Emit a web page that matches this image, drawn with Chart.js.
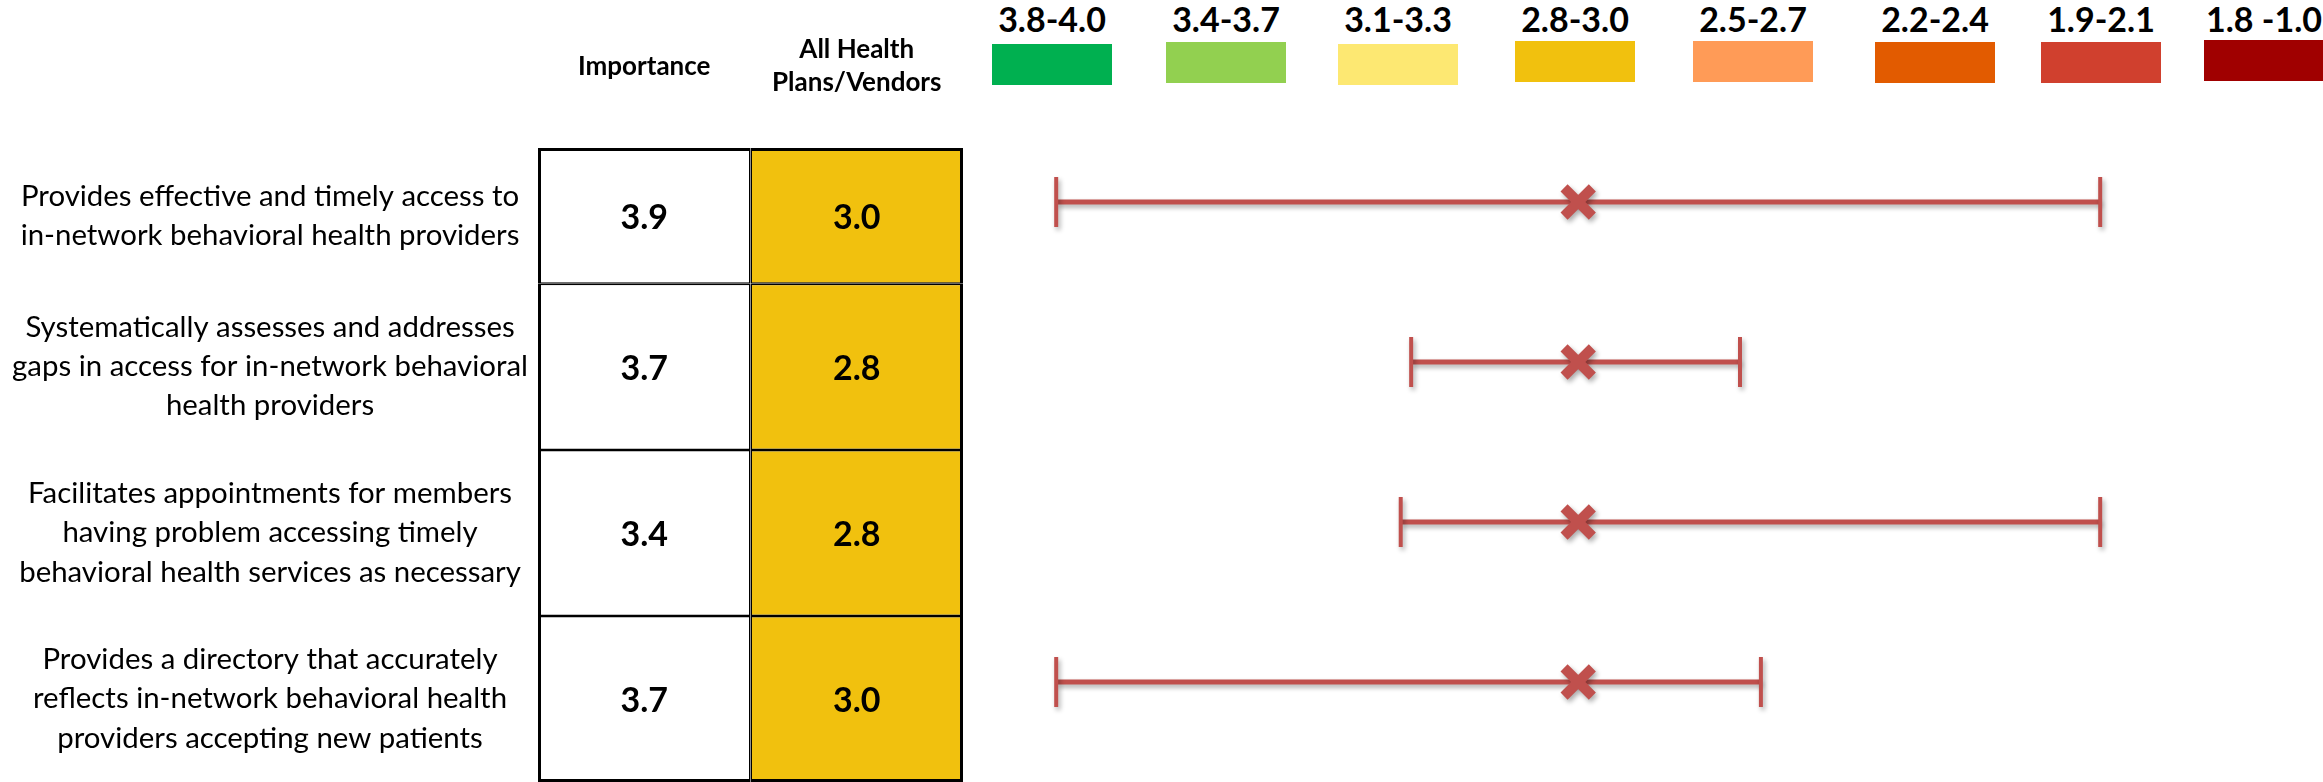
<!DOCTYPE html>
<html>
<head>
<meta charset="utf-8">
<script src="https://cdn.jsdelivr.net/npm/chart.js@4.4.1/dist/chart.umd.min.js"></script>
<style>
  html, body { margin: 0; padding: 0; background: #fff; }
  body { width: 2323px; height: 782px; overflow: hidden; position: relative; font-family: Lato, 'Open Sans', sans-serif; }
  #tableWrap { position: absolute; left: 0; top: 0; width: 963px; height: 782px; }
  #rangeWrap { position: absolute; left: 1004px; top: 122px; width: 1305px; height: 640px; }
  .key-label { position: absolute; top: 1px; width: 170px; text-align: center; font-weight: 700; font-size: 34px; line-height: 36px; color: #000; white-space: pre; }
  .key-box { position: absolute; width: 120px; height: 41px; }
</style>
</head>
<body>
<div id="legend"></div>
<div id="tableWrap"><canvas id="tableChart"></canvas></div>
<div id="rangeWrap"><canvas id="rangeChart"></canvas></div>
<script>
// ---- data ----
const statements = [
  ['Provides effective and timely access to', 'in-network behavioral health providers'],
  ['Systematically assesses and addresses', 'gaps in access for in-network behavioral', 'health providers'],
  ['Facilitates appointments for members', 'having problem accessing timely', 'behavioral health services as necessary'],
  ['Provides a directory that accurately', 'reflects in-network behavioral health', 'providers accepting new patients']
];
const tableColumns = ['Importance', ['All Health', 'Plans/Vendors']];
const importanceScores = [3.9, 3.7, 3.4, 3.7];
const planScores = [3.0, 2.8, 2.8, 3.0];
const planMin = [2.0, 2.48, 2.46, 2.0];
const planMax = [4.0, 3.11, 3.80, 3.35];

const scoreBands = ['3.8-4.0', '3.4-3.7', '3.1-3.3', '2.8-3.0', '2.5-2.7', '2.2-2.4', '1.9-2.1', '1.8 -1.0'];
const bandFloors = [3.8, 3.4, 3.1, 2.8, 2.5, 2.2, 1.9, 1.0];
const bandColors = ['#00B050', '#92D050', '#FDE872', '#F1C10E', '#FF9B57', '#E25B00', '#D0402E', '#A00000'];

// ---- layout / style ----
const FONT = "Lato, 'Open Sans', sans-serif";
const keyCenters = [1052, 1226, 1398, 1575, 1753, 1935, 2101, 2264];
const keyBoxTops = [44, 42, 44, 41, 41, 42, 42, 40];
const RANGE_RED = '#C0504D';

Chart.defaults.font.family = FONT;
Chart.defaults.color = '#000';

function bandColor(score) {
  for (let i = 0; i < bandFloors.length; i++) {
    if (score >= bandFloors[i] - 1e-9) return bandColors[i];
  }
  return bandColors[bandColors.length - 1];
}

// ---- colour key ----
const legend = document.getElementById('legend');
scoreBands.forEach((txt, i) => {
  const lab = document.createElement('div');
  lab.className = 'key-label';
  lab.textContent = txt;
  lab.style.left = (keyCenters[i] - 85) + 'px';
  legend.appendChild(lab);
  const box = document.createElement('div');
  box.className = 'key-box';
  box.style.left = (keyCenters[i] - 60) + 'px';
  box.style.top = keyBoxTops[i] + 'px';
  box.style.background = bandColors[i];
  legend.appendChild(box);
});

// ---- score table (stacked cells, one dataset per statement row) ----
const rowSpans = statements.map(lines => lines.length + 2.5);
const rowMids = [];
let tableTotal = 0;
rowSpans.forEach(s => { rowMids.push(tableTotal + s / 2); tableTotal += s; });

const cellValues = {
  id: 'cellValues',
  afterDatasetsDraw(chart) {
    const ctx = chart.ctx;
    ctx.save();
    ctx.font = 'bold 34px ' + FONT;
    ctx.fillStyle = '#000';
    ctx.textAlign = 'center';
    ctx.textBaseline = 'middle';
    chart.data.datasets.forEach((ds, r) => {
      chart.getDatasetMeta(r).data.forEach((bar, c) => {
        const v = c === 0 ? importanceScores[r] : planScores[r];
        ctx.fillText(v.toFixed(1), bar.x, (bar.y + bar.base) / 2 + 2);
      });
    });
    ctx.restore();
  }
};

new Chart(document.getElementById('tableChart'), {
  type: 'bar',
  data: {
    labels: tableColumns,
    datasets: statements.map((lines, r) => ({
      label: lines.join(' '),
      data: tableColumns.map(() => rowSpans[r]),
      backgroundColor: ctx => ctx.dataIndex === 0 ? '#FFFFFF' : bandColor(planScores[r]),
      borderColor: '#000000',
      borderWidth: ctx => ({
        top: r === 0 ? 3 : 1.5,
        bottom: r === statements.length - 1 ? 3 : 1.5,
        left: ctx.dataIndex === 0 ? 3 : 1.5,
        right: ctx.dataIndex === tableColumns.length - 1 ? 3 : 1.5
      }),
      borderSkipped: false,
      inflateAmount: 0,
      categoryPercentage: 1,
      barPercentage: 1
    }))
  },
  options: {
    animation: false,
    responsive: true,
    maintainAspectRatio: false,
    layout: { padding: 0, autoPadding: false },
    plugins: { legend: { display: false }, tooltip: { enabled: false } },
    scales: {
      x: {
        position: 'top',
        stacked: true,
        grid: { display: false, drawTicks: false },
        border: { display: false },
        ticks: {
          font: { size: 26, weight: 'bold', lineHeight: 1.27 },
          color: '#000',
          padding: 65,
          crossAlign: 'center',
          maxRotation: 0,
          autoSkip: false
        },
        afterFit: s => { s.height = 148; s.paddingLeft = 0; s.paddingRight = 0; }
      },
      y: {
        type: 'linear',
        reverse: true,
        stacked: true,
        min: 0,
        max: tableTotal,
        grid: { display: false, drawTicks: false },
        border: { display: false },
        afterBuildTicks: s => { s.ticks = rowMids.map(v => ({ value: v })); },
        ticks: {
          callback: (v, i) => statements[i],
          crossAlign: 'center',
          padding: 10,
          autoSkip: false,
          font: { size: 29.4, lineHeight: 1.33 },
          color: '#000'
        },
        afterFit: s => { s.width = 538; s.paddingTop = 0; s.paddingBottom = 0; }
      }
    }
  },
  plugins: [cellValues]
});

// ---- min / max spread around each plan average ----
const rowKeys = statements.map(lines => lines.join(' '));

const softShadow = {
  id: 'softShadow',
  beforeDatasetsDraw(chart) {
    const ctx = chart.ctx;
    ctx.save();
    ctx.shadowColor = 'rgba(0,0,0,0.33)';
    ctx.shadowBlur = 5;
    ctx.shadowOffsetX = 2;
    ctx.shadowOffsetY = 3;
  },
  afterDatasetsDraw(chart) { chart.ctx.restore(); }
};

const averageMarks = {
  label: 'Average',
  data: rowKeys.map((k, i) => ({ x: planScores[i] - planScores[i], y: k })),
  showLine: false,
  pointStyle: 'crossRot',
  pointRadius: 20,
  pointBorderWidth: 10,
  pointBorderColor: RANGE_RED,
  pointBackgroundColor: RANGE_RED
};

const spreadLines = rowKeys.map((k, i) => ({
  label: k,
  data: [
    { x: planMin[i] - planScores[i], y: k },
    { x: planMax[i] - planScores[i], y: k }
  ],
  borderColor: RANGE_RED,
  borderWidth: 5,
  borderCapStyle: 'butt',
  pointStyle: 'line',
  pointRotation: 90,
  pointRadius: 25,
  pointBorderWidth: 4,
  pointBorderColor: RANGE_RED,
  pointBackgroundColor: RANGE_RED
}));

new Chart(document.getElementById('rangeChart'), {
  type: 'line',
  data: { datasets: [averageMarks].concat(spreadLines) },
  options: {
    animation: false,
    responsive: true,
    maintainAspectRatio: false,
    layout: { padding: 0, autoPadding: false },
    plugins: { legend: { display: false }, tooltip: { enabled: false } },
    scales: {
      x: { type: 'linear', min: -1.1, max: 1.4, display: false },
      y: { type: 'category', labels: rowKeys, offset: true, display: false }
    }
  },
  plugins: [softShadow]
});
</script>
</body>
</html>
